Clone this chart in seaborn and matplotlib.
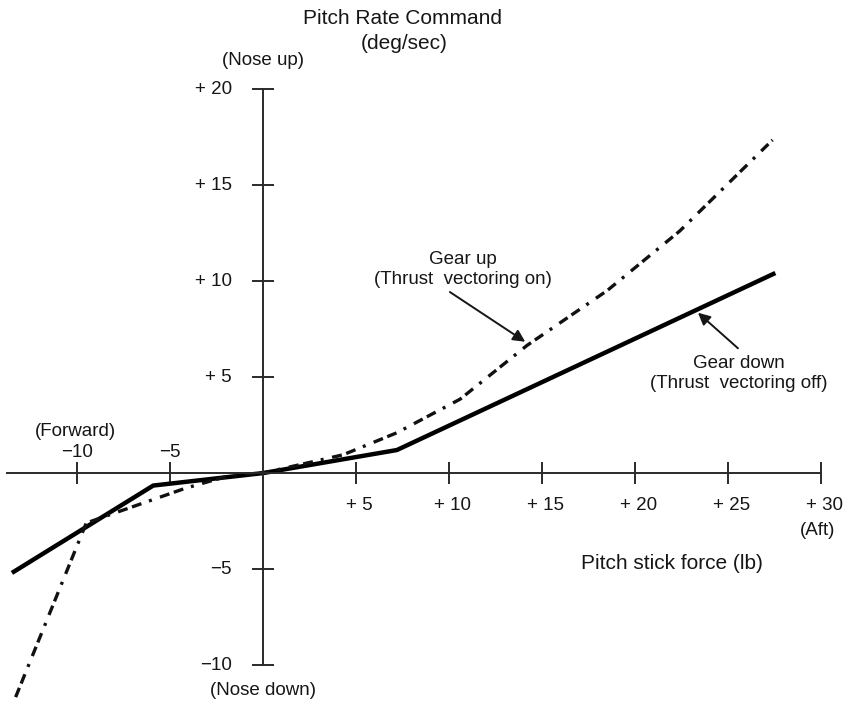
import matplotlib
matplotlib.use("Agg")
import matplotlib.pyplot as plt
import numpy as np
import pandas as pd
import seaborn as sns

# Pitch stick force (lb) vs pitch rate command (deg/sec)
gear_down_force = [-13.5, -5.9, 0.0, 7.2, 27.55]
gear_down_rate = [-5.2, -0.65, 0.0, 1.2, 10.42]

gear_up_force = [-13.3, -9.5, -4.2, -1.7, 0.0, 4.3, 7.2, 10.6, 14.2, 18.5, 22.4, 27.4]
gear_up_rate = [-11.67, -2.6, -0.8, -0.1, 0.0, 0.95, 2.1, 3.85, 6.65, 9.5, 12.6, 17.35]

series_names = ["Gear down", "Gear up"]

x_ticks = [-10, -5, 5, 10, 15, 20, 25, 30]
x_tick_labels = ["\u221210", "\u22125", "+ 5", "+ 10", "+ 15", "+ 20", "+ 25", "+ 30"]
y_ticks = [-10, -5, 5, 10, 15, 20]
y_tick_labels = ["\u221210", "\u22125", "+ 5", "+ 10", "+ 15", "+ 20"]

df = pd.concat([
    pd.DataFrame({"force": gear_down_force, "rate": gear_down_rate,
                  "series": series_names[0], "order": range(len(gear_down_force))}),
    pd.DataFrame({"force": gear_up_force, "rate": gear_up_rate,
                  "series": series_names[1], "order": range(len(gear_up_force))}),
], ignore_index=True)

sns.set_theme(style="white")
plt.rcParams["font.family"] = ["Liberation Sans", "DejaVu Sans"]
ink = "#161616"

fig = plt.figure(figsize=(8.49, 7.05), dpi=100)
ax = fig.add_axes([0, 0, 1, 1])
ax.set_facecolor("white")

sns.lineplot(
    data=df, x="force", y="rate", style="series", hue="series",
    palette={series_names[0]: "black", series_names[1]: "#111111"},
    dashes={series_names[0]: "", series_names[1]: (3.0, 1.4, 3.0, 2.4, 0.9, 2.6)},
    sort=False, estimator=None, legend=False, ax=ax,
)
lines = ax.get_lines()
lines[0].set_linewidth(3.2)
lines[0].set_solid_capstyle("butt")
lines[1].set_linewidth(2.4)
lines[1].set_dash_capstyle("butt")

ax.set_xlim(-14.14, 31.51)
ax.set_ylim(-12.08, 24.64)

# Axes crossing at the origin
for side in ["top", "right"]:
    ax.spines[side].set_visible(False)
ax.spines["left"].set_position(("data", 0))
ax.spines["bottom"].set_position(("data", 0))
ax.spines["left"].set_bounds(-10, 20)
ax.spines["bottom"].set_bounds(-13.76, 30)
for side in ["left", "bottom"]:
    ax.spines[side].set_color("#2a2a2a")
    ax.spines[side].set_linewidth(1.4)

ax.set_xticks(x_ticks)
ax.set_yticks(y_ticks)
ax.set_xticklabels([])
ax.set_yticklabels([])
ax.tick_params(axis="both", which="major", bottom=True, left=True, direction="inout",
               length=16, width=1.4, color="#2a2a2a")
ax.set_xlabel("")
ax.set_ylabel("")

tick_fs = 13.5
label_fs = 15

# X tick labels: forward (negative) above the axis, aft (positive) below
for v, lab in zip(x_ticks, x_tick_labels):
    if v < 0:
        ax.text(v, 1.09, lab, ha="center", va="center", fontsize=tick_fs, color=ink)
    else:
        ax.text(v + 0.2, -1.67, lab, ha="center", va="center", fontsize=tick_fs, color=ink)

# Y tick labels to the left of the vertical axis
for v, lab in zip(y_ticks, y_tick_labels):
    ax.annotate(lab, xy=(0, v), xytext=(-31, 0), textcoords="offset pixels",
                ha="right", va="center", fontsize=tick_fs, color=ink)

ax.text(-10.1, 2.14, "(Forward)", ha="center", va="center", fontsize=tick_fs, color=ink)
ax.text(29.8, -2.97, "(Aft)", ha="center", va="center", fontsize=tick_fs, color=ink)
ax.text(0, 21.5, "(Nose up)", ha="center", va="center", fontsize=tick_fs, color=ink)
ax.text(0, -11.3, "(Nose down)", ha="center", va="center", fontsize=tick_fs, color=ink)

ax.text(7.5, 23.7, "Pitch Rate Command", ha="center", va="center", fontsize=label_fs, color=ink)
ax.text(7.6, 22.35, "(deg/sec)", ha="center", va="center", fontsize=label_fs, color=ink)
ax.text(22.0, -4.69, "Pitch stick force (lb)", ha="center", va="center", fontsize=label_fs, color=ink)

# Curve annotations
ax.text(10.75, 10.6, "Gear up\n(Thrust  vectoring on)", ha="center", va="center",
        fontsize=tick_fs, color=ink, linespacing=1.25)
ax.annotate("", xy=(14.1, 6.84), xytext=(10.05, 9.43),
            arrowprops=dict(arrowstyle="-|>", color=ink, lw=1.4, mutation_scale=18,
                            shrinkA=0, shrinkB=0))
ax.text(25.6, 5.18, "Gear down\n(Thrust  vectoring off)", ha="center", va="center",
        fontsize=tick_fs, color=ink, linespacing=1.25)
ax.annotate("", xy=(23.39, 8.35), xytext=(25.54, 6.5),
            arrowprops=dict(arrowstyle="-|>", color=ink, lw=1.4, mutation_scale=18,
                            shrinkA=0, shrinkB=0))

fig.savefig("out.png", dpi=100, facecolor="white")
